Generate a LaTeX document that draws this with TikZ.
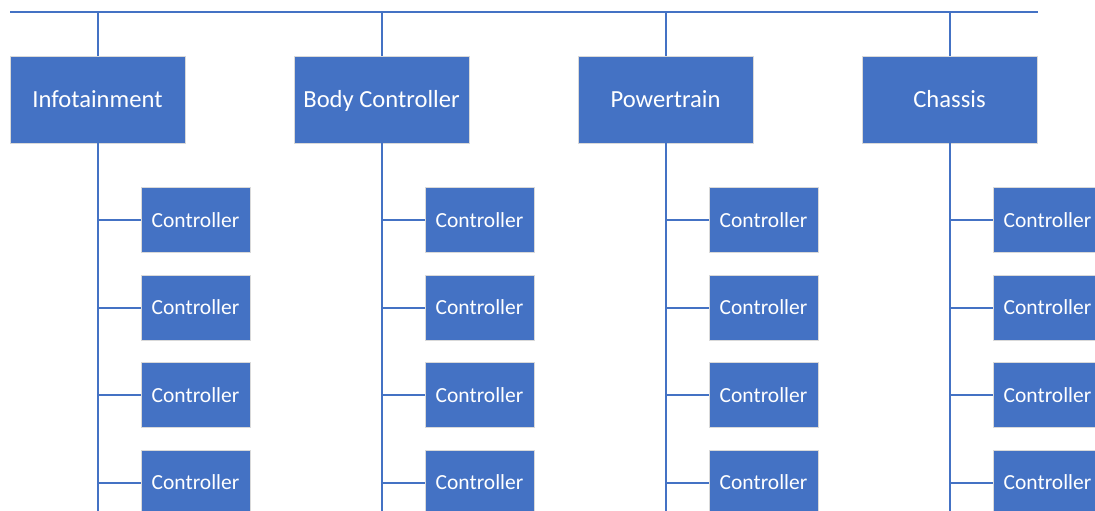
\documentclass[tikz,border=0pt]{standalone}
\usepackage{fontspec}
\setmainfont{Carlito}
\definecolor{ecublue}{RGB}{68, 114, 196}
\usetikzlibrary{positioning, calc}

\begin{document}
\begin{tikzpicture}[x=1pt, y=-1pt,
    domainbox/.style={fill=ecublue, draw=black!15, line width=0.8pt,
                   minimum width=175pt, minimum height=87pt,
                   text height=16pt, text depth=0pt,
                   text=white, font=\fontsize{24.6}{28}\selectfont},
    ctrlbox/.style={fill=ecublue, draw=black!15, line width=0.8pt,
                 minimum width=109pt, minimum height=65pt,
                 text=white, font=\fontsize{21.5}{26}\selectfont},
    bus/.style={draw=ecublue, line width=2pt}]
                \clip (0,0) rectangle (1095,511);
                % top bus
                \coordinate (busL) at (10,12);
                \coordinate (busR) at (1038,12);
                \draw[bus] (busL) -- (busR);
                \foreach \dom [count=\i] in {Infotainment, Body Controller, Powertrain, Chassis} {
                    \node[domainbox] (g\i) at ({97.5+284*(\i-1)}, 99.5) {\dom};
                    \draw[bus] (g\i.north) -- (g\i.north |- busL);
                    \coordinate (end\i) at ({97.5+284*(\i-1)}, 520);
                    \draw[bus] (g\i.south) -- (end\i);
                    \foreach \j in {1,...,4} {
                        \node[ctrlbox] (c\i\j) at ({195.5+284*(\i-1)}, {220+87.5*(\j-1)}) {Controller};
                        \draw[bus] (c\i\j.west) -- (c\i\j.west -| g\i.south);
                    }
                }
            \end{tikzpicture}
\end{document}
